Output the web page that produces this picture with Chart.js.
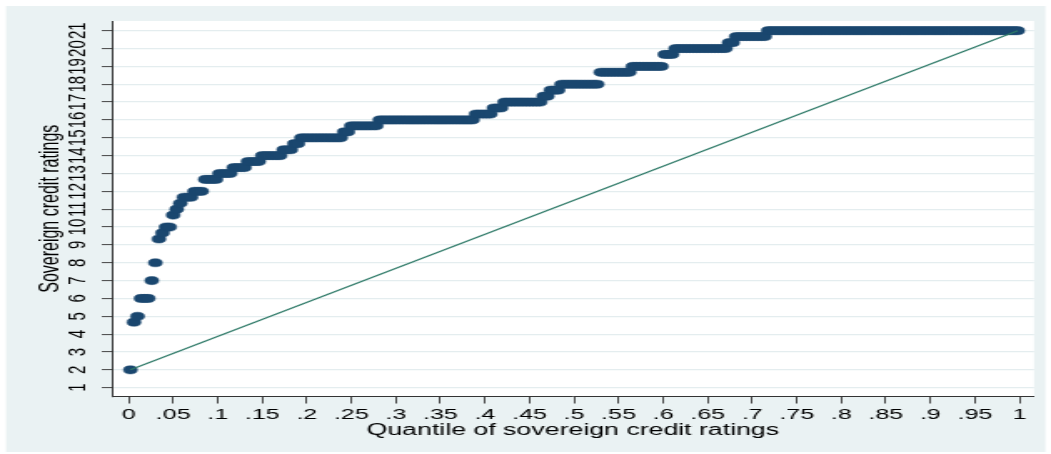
<!DOCTYPE html>
<html>
<head>
<meta charset="utf-8">
<script src="https://cdn.jsdelivr.net/npm/chart.js@4.4.0/dist/chart.umd.min.js"></script>
<style>
  html, body { margin: 0; padding: 0; background: #ffffff; overflow: hidden; }
  /* the graph is laid out on a narrow canvas and widened to the page width */
  #wrap { position: absolute; left: 0; top: 0; width: 630px; height: 454px;
          transform: scaleX(1.66825); transform-origin: 0 0; }
  canvas { display: block; }
</style>
</head>
<body>
<div id="wrap"><canvas id="c" width="630" height="454" style="width:630px;height:454px"></canvas></div>
<script>
// Distribution of sovereign credit ratings: each rating level and how many observations sit at it
const ratingValues = [2, 4.67, 5, 6, 7, 8, 9.33, 9.67, 10, 10.67,
                      11, 11.33, 11.67, 12, 12.67, 13, 13.33, 13.67, 14, 14.33,
                      14.67, 15, 15.33, 15.67, 16, 16.33, 16.67, 17, 17.33, 17.67,
                      18, 18.67, 19, 19.67, 20, 20.33, 20.67, 21];
const ratingCounts = [1, 1, 1, 3, 1, 1, 1, 1, 2, 1,
                      1, 1, 3, 3, 4, 4, 4, 4, 6, 3,
                      2, 12, 2, 8, 27, 5, 3, 11, 2, 3,
                      11, 9, 9, 3, 15, 2, 9, 71];

// Axis ticks
const ratingTicks = [1, 2, 3, 4, 5, 6, 7, 8, 9, 10, 11, 12, 13, 14, 15, 16, 17, 18, 19, 20, 21];
const quantileTicks = [0, 0.05, 0.1, 0.15, 0.2, 0.25, 0.3, 0.35, 0.4, 0.45, 0.5,
                       0.55, 0.6, 0.65, 0.7, 0.75, 0.8, 0.85, 0.9, 0.95, 1];
const quantileTickLabels = ['0', '.05', '.1', '.15', '.2', '.25', '.3', '.35', '.4', '.45', '.5',
                            '.55', '.6', '.65', '.7', '.75', '.8', '.85', '.9', '.95', '1'];

// Quantile plot: the i-th smallest value is placed at fraction (i - 0.5) / N
const N = ratingCounts.reduce((a, b) => a + b, 0);
const quantilePoints = [];
let rank = 0;
ratingValues.forEach((v, k) => {
  for (let j = 0; j < ratingCounts[k]; j++) {
    rank++;
    quantilePoints.push({ x: (rank - 0.5) / N, y: v });
  }
});
// Reference line joining the smallest and the largest observation
const referenceLine = [quantilePoints[0], quantilePoints[quantilePoints.length - 1]];

const FONT = "'Liberation Sans', Arial, Helvetica, sans-serif";

const framePlugin = {
  id: 'frame',
  beforeDraw(chart) {
    const { ctx, chartArea: a } = chart;
    ctx.save();
    ctx.fillStyle = '#ffffff';
    ctx.fillRect(0, 0, chart.width, chart.height);
    ctx.fillStyle = '#eaf2f3';
    ctx.fillRect(3.6, 6, 623, 446);
    ctx.fillStyle = '#ffffff';
    ctx.fillRect(a.left, a.top, a.right - a.left, a.bottom - a.top);
    ctx.restore();
  }
};

new Chart(document.getElementById('c'), {
  type: 'scatter',
  data: {
    datasets: [
      {
        type: 'line',
        data: referenceLine,
        borderColor: '#2e7a68',
        borderWidth: 1.2,
        pointRadius: 0,
        fill: false
      },
      {
        data: quantilePoints,
        backgroundColor: '#1a476f',
        borderColor: '#1a476f',
        borderWidth: 0.5,
        pointRadius: 4.1
      }
    ]
  },
  options: {
    responsive: false,
    animation: false,
    events: [],
    layout: { padding: { left: 0, right: 10.2, top: 21, bottom: 0 } },
    plugins: { legend: { display: false }, tooltip: { enabled: false } },
    scales: {
      x: {
        type: 'linear',
        min: -0.0189,
        max: 1.0163,
        afterBuildTicks: (s) => { s.ticks = quantileTicks.map(v => ({ value: v })); },
        afterFit: (s) => { s.height = 57.5; },
        ticks: {
          autoSkip: false, minRotation: 0, maxRotation: 0, padding: 2,
          color: '#000', font: { family: FONT, size: 15 },
          callback: (v, i) => quantileTickLabels[i]
        },
        grid: { drawOnChartArea: false, drawTicks: true, tickLength: 7, tickColor: '#444', tickWidth: 1 },
        border: { display: true, color: '#333', width: 1 },
        title: {
          display: true, text: 'Quantile of sovereign credit ratings', color: '#000',
          font: { family: FONT, size: 16 }, padding: { top: 0, bottom: 14 }
        }
      },
      y: {
        type: 'linear',
        min: 0.507,
        max: 21.543,
        afterBuildTicks: (s) => { s.ticks = ratingTicks.map(v => ({ value: v })); },
        afterFit: (s) => { s.width = 67; },
        ticks: {
          autoSkip: false, minRotation: 90, maxRotation: 90, crossAlign: 'center', padding: 6,
          color: '#000', font: { family: FONT, size: 15 },
          callback: (v) => String(v)
        },
        grid: { color: '#e4edef', lineWidth: 1.2, drawTicks: true, tickLength: 6, tickColor: '#444', tickWidth: 1 },
        border: { display: true, color: '#333', width: 1 },
        title: {
          display: true, text: 'Sovereign credit ratings', color: '#000',
          font: { family: FONT, size: 16 }, padding: { top: 21, bottom: 0 }
        }
      }
    }
  },
  plugins: [framePlugin]
});
</script>
</body>
</html>
